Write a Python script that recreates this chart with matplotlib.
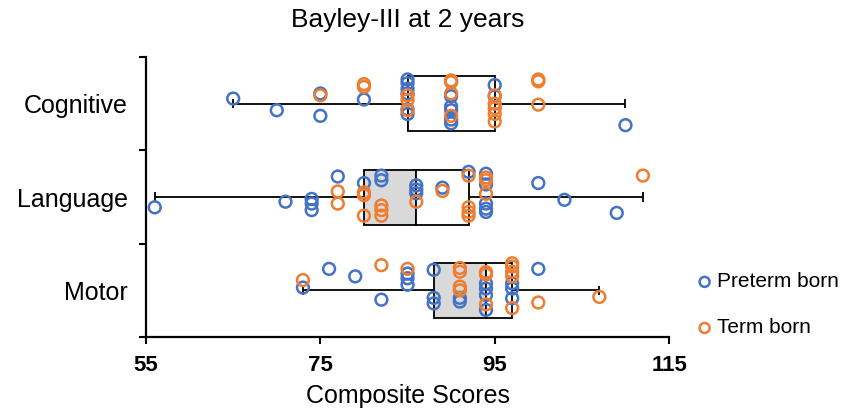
import matplotlib
matplotlib.use('Agg')
import matplotlib.pyplot as plt
import numpy as np

plt.rcParams['font.family'] = ['Liberation Sans', 'DejaVu Sans']

categories = ['Cognitive', 'Language', 'Motor']

# box summary per domain (min, Q1, median, Q3, max)
lowValues = [65, 56, 73]
q1Values = [85, 80, 88]
medianValues = [85, 86, 94]
q3Values = [95, 92, 97]
highValues = [110, 112, 107]

# individual scores and their vertical jitter within the row
cognitivePreterm = [65, 70, 75, 75, 80, 85, 85, 85, 85, 85, 85, 90, 90, 90, 90, 90, 95, 95, 110]
cognitivePretermJitter = [-0.055, 0.07, -0.11, 0.13, -0.045, -0.26, -0.22, -0.16, -0.11, 0.06, 0.11,
                          -0.08, 0.03, 0.07, 0.17, 0.21, -0.20, -0.08, 0.23]
cognitiveTerm = [75, 80, 80, 85, 85, 85, 90, 90, 90, 90, 95, 95, 95, 95, 95, 100, 100, 100]
cognitiveTermJitter = [-0.09, -0.21, -0.18, -0.09, -0.04, 0.07, -0.25, -0.23, -0.11, 0.13,
                       -0.09, 0.0, 0.05, 0.11, 0.19, -0.26, -0.24, 0.01]

languagePreterm = [56, 71, 74, 74, 74, 77, 80, 82, 82, 86, 86, 86, 89, 92, 94, 94, 94, 94, 94, 100, 103, 109]
languagePretermJitter = [0.11, 0.05, 0.02, 0.07, 0.14, -0.22, -0.15, -0.23, -0.18, -0.125, -0.08, -0.04,
                         -0.10, -0.27, -0.25, -0.135, 0.07, 0.125, 0.16, -0.15, 0.03, 0.17]
languageTerm = [77, 77, 80, 80, 80, 82, 82, 82, 86, 89, 92, 92, 92, 92, 94, 94, 94, 112]
languageTermJitter = [-0.06, 0.07, -0.05, -0.02, 0.2, 0.09, 0.14, 0.2, 0.05, -0.065,
                      -0.23, 0.11, 0.16, 0.2, -0.21, -0.18, -0.035, -0.23]

motorPreterm = [73, 76, 79, 82, 85, 85, 85, 88, 88, 88, 91, 91, 94, 94, 94, 94, 97, 97, 97, 100]
motorPretermJitter = [-0.03, -0.23, -0.15, 0.10, -0.18, -0.13, -0.06, -0.22, 0.08, 0.14, 0.08, 0.12,
                      -0.075, -0.02, 0.05, 0.21, -0.075, -0.02, 0.085, -0.23]
motorTerm = [73, 82, 85, 91, 91, 91, 91, 94, 94, 94, 97, 97, 97, 97, 97, 100, 107]
motorTermJitter = [-0.11, -0.27, -0.23, -0.24, -0.2, -0.04, 0.0, -0.195, -0.17, 0.15,
                   -0.29, -0.255, -0.2, -0.15, 0.19, 0.13, 0.07]

pretermScores = [cognitivePreterm, languagePreterm, motorPreterm]
pretermJitter = [cognitivePretermJitter, languagePretermJitter, motorPretermJitter]
termScores = [cognitiveTerm, languageTerm, motorTerm]
termJitter = [cognitiveTermJitter, languageTermJitter, motorTermJitter]

blue = '#4472C4'
orange = '#ED7D31'
boxHeight = 0.59
capHalf = 0.05

fig = plt.figure(figsize=(8.45, 4.12), dpi=100)
ax = fig.add_axes([0.1728, 0.182, 0.619, 0.6795])

rows = np.arange(len(categories))

# lower half of the box is shaded, upper half left white
ax.barh(rows, np.array(medianValues) - np.array(q1Values), left=q1Values, height=boxHeight,
        color='#D9D9D9', edgecolor='black', linewidth=1.3, zorder=2)
ax.barh(rows, np.array(q3Values) - np.array(medianValues), left=medianValues, height=boxHeight,
        color='white', edgecolor='black', linewidth=1.3, zorder=2)

# whiskers with end caps
ax.hlines(rows, lowValues, q1Values, color='black', linewidth=1.3, zorder=1)
ax.hlines(rows, q3Values, highValues, color='black', linewidth=1.3, zorder=1)
ax.vlines(lowValues, rows - capHalf, rows + capHalf, color='black', linewidth=1.3, zorder=1)
ax.vlines(highValues, rows - capHalf, rows + capHalf, color='black', linewidth=1.3, zorder=1)

for i in range(len(categories)):
    ax.scatter(pretermScores[i], i + np.array(pretermJitter[i]), s=72, facecolors='none',
               edgecolors=blue, linewidths=1.8, zorder=3,
               label='Preterm born' if i == 0 else None)
for i in range(len(categories)):
    ax.scatter(termScores[i], i + np.array(termJitter[i]), s=72, facecolors='none',
               edgecolors=orange, linewidths=1.8, zorder=4,
               label='Term born' if i == 0 else None)

ax.set_xlim(55, 115)
ax.set_ylim(2.5, -0.5)
ax.set_xticks([55, 75, 95, 115])
ax.set_yticks(rows)
ax.set_yticklabels(categories, fontsize=18)
ax.set_yticks([-0.5, 0.5, 1.5, 2.5], minor=True)
ax.tick_params(axis='y', which='major', length=0, pad=13)
ax.tick_params(axis='y', which='minor', length=5, width=1.5, direction='out')
ax.tick_params(axis='x', length=5, width=1.5, direction='out', pad=8, labelsize=16)
for lbl in ax.get_xticklabels():
    lbl.set_fontweight('bold')

for side in ['top', 'right']:
    ax.spines[side].set_visible(False)
for side in ['left', 'bottom']:
    ax.spines[side].set_linewidth(1.6)

ax.set_xlabel('Composite Scores', fontsize=18, labelpad=6)
ax.set_title('Bayley-III at 2 years', fontsize=19, pad=22)

ax.legend(loc='center left', bbox_to_anchor=(0.824, 0.26), bbox_transform=fig.transFigure,
          frameon=False, fontsize=15, handlelength=0.8, handletextpad=0.2, labelspacing=1.3,
          markerscale=0.85, borderaxespad=0, borderpad=0)

fig.savefig('out.png', dpi=100)
